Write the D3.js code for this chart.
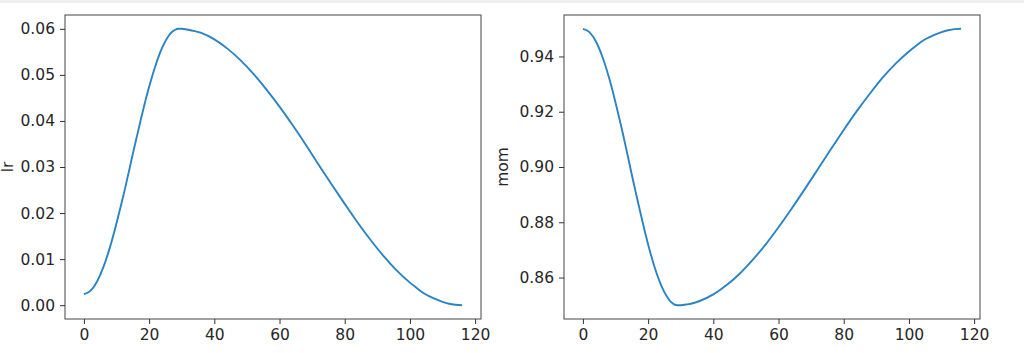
<!DOCTYPE html>
<html>
<head>
<meta charset="utf-8">
<script src="https://cdn.jsdelivr.net/npm/d3@7"></script>
<style>
  body { margin: 0; background: #fff; }
  .tick text { font-family: "DejaVu Sans", sans-serif; font-size: 15.5px; fill: #262626; }
  .ylab { font-family: "DejaVu Sans", sans-serif; font-size: 15.5px; fill: #262626; }
</style>
</head>
<body>
<div id="plot"></div>
<script>
// iterations
let iters = [0, 2, 4, 6, 8, 12, 16, 20, 22, 24, 26, 27, 28, 29, 30, 32, 34, 36, 40, 44, 48, 52, 56, 60, 64, 68, 72, 76, 80, 84, 88, 92, 96, 100, 102, 104, 106, 108, 110, 112, 114, 116];
let lrValues = [0.0024, 0.0031, 0.0051, 0.0083, 0.0126, 0.0235, 0.0359, 0.0474, 0.0521, 0.0559, 0.0585, 0.0593, 0.0598, 0.0600, 0.0600, 0.0598, 0.0595, 0.0591, 0.0577, 0.0557, 0.0532, 0.0502, 0.0468, 0.0431, 0.0391, 0.0349, 0.0305, 0.0262, 0.0220, 0.0179, 0.0141, 0.0106, 0.0075, 0.0049, 0.0038, 0.0027, 0.0019, 0.0013, 0.0007, 0.0003, 0.0001, 0.0000];
let momValues = [0.9500, 0.9488, 0.9454, 0.9398, 0.9324, 0.9134, 0.8919, 0.8720, 0.8637, 0.8572, 0.8527, 0.8512, 0.8503, 0.8500, 0.8500, 0.8503, 0.8508, 0.8516, 0.8539, 0.8572, 0.8613, 0.8663, 0.8719, 0.8782, 0.8849, 0.8919, 0.8991, 0.9063, 0.9134, 0.9202, 0.9265, 0.9324, 0.9375, 0.9418, 0.9437, 0.9455, 0.9468, 0.9479, 0.9488, 0.9495, 0.9499, 0.9500];
let xTicks = [0, 20, 40, 60, 80, 100, 120];
let lrTicks = [0.00, 0.01, 0.02, 0.03, 0.04, 0.05, 0.06];
let momTicks = [0.86, 0.88, 0.90, 0.92, 0.94];

let svgWidth = 1024;
let svgHeight = 353;

let svg = d3.select('#plot')
            .append('svg')
                .attr('width', svgWidth)
                .attr('height', svgHeight);

// light strip along the top of the notebook cell
svg.append('rect')
    .attr('x', 0).attr('y', 0)
    .attr('width', svgWidth).attr('height', 3)
    .attr('fill', '#eeeeee');

function drawPanel(left, right, values, ticks, fmt, label, labelX) {
    let top = 15, bottom = 319;
    let xMin = d3.min(iters), xMax = d3.max(iters);
    let yMin = d3.min(values), yMax = d3.max(values);
    let xPad = (xMax - xMin) * 0.05, yPad = (yMax - yMin) * 0.05;

    let x = d3.scaleLinear()
                .domain([xMin - xPad, xMax + xPad])
                .range([left, right]);
    let y = d3.scaleLinear()
                .domain([yMin - yPad, yMax + yPad])
                .range([bottom, top]);

    let g = svg.append('g');

    g.append('path')
        .datum(iters.map((d, i) => [d, values[i]]))
        .attr('fill', 'none')
        .attr('stroke', '#2a84c4')
        .attr('stroke-width', 1.9)
        .attr('d', d3.line()
                    .x(d => x(d[0]))
                    .y(d => y(d[1]))
                    .curve(d3.curveMonotoneX));

    g.append('rect')
        .attr('x', left).attr('y', top)
        .attr('width', right - left).attr('height', bottom - top)
        .attr('fill', 'none')
        .attr('stroke', '#444')
        .attr('stroke-width', 1);

    let xAxis = d3.axisBottom(x).tickValues(xTicks).tickSize(5).tickPadding(5).tickFormat(d3.format('d'));
    let yAxis = d3.axisLeft(y).tickValues(ticks).tickSize(5).tickPadding(5).tickFormat(d3.format(fmt));

    g.append('g')
        .attr('transform', `translate(0,${bottom})`)
        .call(xAxis)
        .call(a => a.select('.domain').remove())
        .call(a => a.selectAll('.tick line').attr('stroke', '#333'));

    g.append('g')
        .attr('transform', `translate(${left},0)`)
        .call(yAxis)
        .call(a => a.select('.domain').remove())
        .call(a => a.selectAll('.tick line').attr('stroke', '#333'));

    g.append('text')
        .attr('class', 'ylab')
        .attr('transform', `translate(${labelX},${(top + bottom) / 2}) rotate(-90)`)
        .attr('text-anchor', 'middle')
        .text(label);
}

drawPanel(65, 481, lrValues, lrTicks, '.2f', 'lr', 13);
drawPanel(564, 980, momValues, momTicks, '.2f', 'mom', 508);
</script>
</body>
</html>
